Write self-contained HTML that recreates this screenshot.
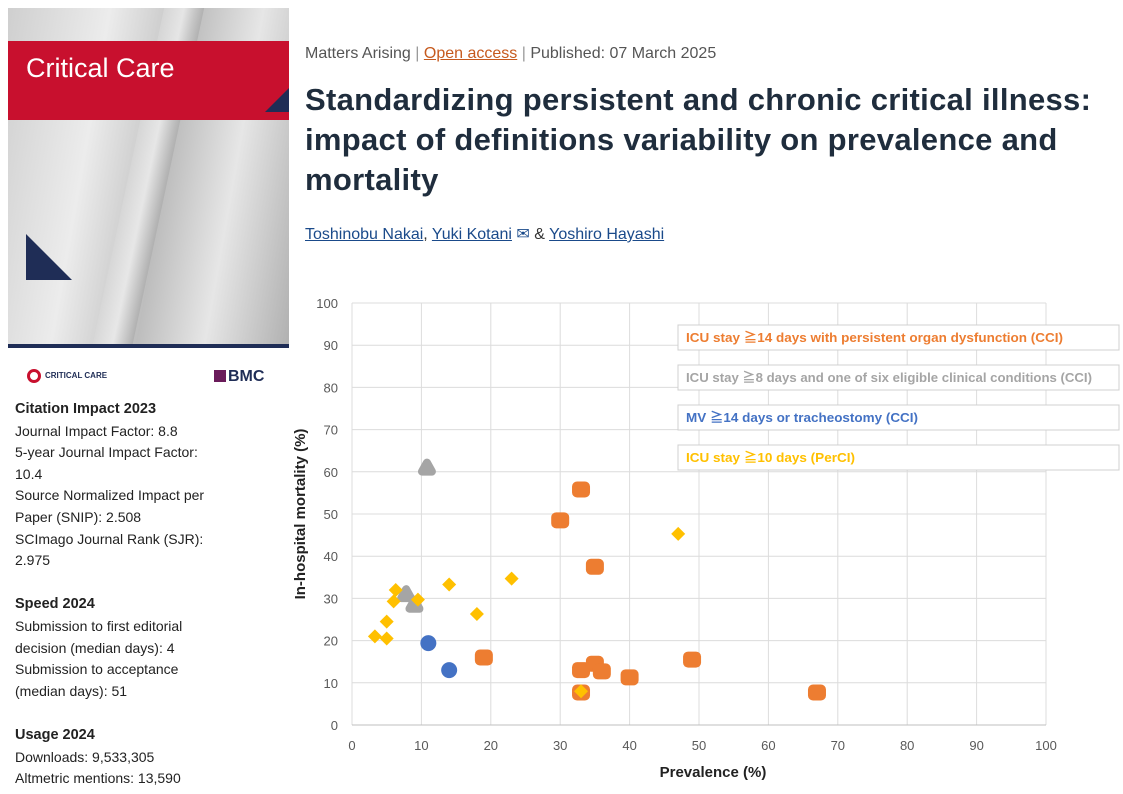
<!DOCTYPE html>
<html><head><meta charset="utf-8"><style>
body{margin:0;width:1123px;height:794px;background:#fff;position:relative;overflow:hidden;font-family:"Liberation Sans","Noto Sans CJK JP",sans-serif;}
.abs{position:absolute}
.side p{margin:0;font-size:14px;line-height:21.6px;color:#222}
.side b{font-size:14.5px;color:#222}
a{color:#1a4a8a}
</style></head><body>
<div class="abs" style="left:8px;top:8px;width:281px;height:340px;background:linear-gradient(100deg,#cfcfcf,#ececec 30%,#bdbdbd 55%,#e6e6e6 75%,#b0b0b0);">
 <div class="abs" style="left:120px;top:0;width:40px;height:340px;background:linear-gradient(90deg,#d8d8d8,#f4f4f4,#aaa);transform:skewX(-12deg);opacity:.7"></div>
 <div class="abs" style="left:0;top:33px;width:281px;height:79px;background:#c8102e;">
  <div class="abs" style="left:18px;top:12px;color:#fff;font-size:27px;">Critical Care</div>
  <div class="abs" style="right:0;bottom:8px;width:0;height:0;border-left:24px solid transparent;border-bottom:24px solid #1f2d56;"></div>
 </div>
 <div class="abs" style="left:18px;top:226px;width:0;height:0;border-top:46px solid transparent;border-left:46px solid #1f2d56;"></div>
 <div class="abs" style="left:0;bottom:0;width:281px;height:4px;background:#1f2d56"></div>
</div>
<div class="abs" style="left:27px;top:369px;font-size:8px;font-weight:bold;color:#1f2d56;"><span style="display:inline-block;width:14px;height:14px;border-radius:50%;border:3px solid #c8102e;box-sizing:border-box;vertical-align:middle;margin-right:4px"></span>CRITICAL CARE</div>
<div class="abs" style="left:214px;top:368px;font-size:16px;font-weight:bold;color:#1f2d56;"><span style="display:inline-block;width:12px;height:12px;background:#6a1b5a;vertical-align:-1px;margin-right:2px"></span>BMC</div>
<div class="abs side" style="left:15px;top:398px;width:270px;">
<p><b>Citation Impact 2023</b></p><p>Journal Impact Factor: 8.8</p><p>5-year Journal Impact Factor:</p><p>10.4</p><p>Source Normalized Impact per</p><p>Paper (SNIP): 2.508</p><p>SCImago Journal Rank (SJR):</p><p>2.975</p><p>&nbsp;</p>
<p><b>Speed 2024</b></p><p>Submission to first editorial</p><p>decision (median days): 4</p><p>Submission to acceptance</p><p>(median days): 51</p><p>&nbsp;</p>
<p><b>Usage 2024</b></p><p>Downloads: 9,533,305</p><p>Altmetric mentions: 13,590</p>
</div>
<div class="abs" style="left:305px;top:45px;font-size:16px;color:#555;">Matters Arising <span style="color:#999">|</span> <a style="color:#c65a1e;text-decoration:underline">Open access</a> <span style="color:#999">|</span> Published: 07 March 2025</div>
<div class="abs" style="left:305px;top:80px;width:810px;font-size:31px;line-height:40px;font-weight:bold;color:#1f2d3d;letter-spacing:0.3px">Standardizing persistent and chronic critical illness: impact of definitions variability on prevalence and mortality</div>
<div class="abs" style="left:305px;top:224px;font-size:16px;color:#333;"><a style="text-decoration:underline">Toshinobu Nakai</a>, <a style="text-decoration:underline">Yuki Kotani</a> <span style="color:#1a4a8a">✉</span> &amp; <a style="text-decoration:underline">Yoshiro Hayashi</a></div>
<svg class="abs" style="left:0;top:0" width="1123" height="794" id="chart"></svg>
<script>
const categories=["ICU stay ≧14 days with persistent organ dysfunction (CCI)","ICU stay ≧8 days and one of six eligible clinical conditions (CCI)","MV ≧14 days or tracheostomy (CCI)","ICU stay ≧10 days (PerCI)"];
const colors=["#ed7d31","#a5a5a5","#4472c4","#ffc000"];
const orangeX=[33,30,35,19,33,35,36,40,49,33,67];
const orangeY=[55.8,48.5,37.5,16,13,14.5,12.7,11.3,15.5,7.7,7.7];
const grayX=[10.8,7.8,9];
const grayY=[61,31,28.5];
const blueX=[11,14];
const blueY=[19.4,13];
const yellowX=[3.3,5,5,6,6.3,9.5,14,18,23,47,33];
const yellowY=[21,20.5,24.5,29.3,32,29.7,33.3,26.3,34.7,45.3,8];
const xTicks=[0,10,20,30,40,50,60,70,80,90,100];
const yTicks=[0,10,20,30,40,50,60,70,80,90,100];
const legendWidths=[377,406,232,169];
const svg=document.getElementById('chart');const NS='http://www.w3.org/2000/svg';
const X=v=>352+v*6.94, Y=v=>725-v*4.22;
function mk(t,a,p){const e=document.createElementNS(NS,t);for(const k in a)e.setAttribute(k,a[k]);(p||svg).appendChild(e);return e;}
xTicks.forEach(t=>{const l=mk('line',{x1:X(t),x2:X(t),y1:Y(0),y2:Y(100),stroke:'#dcdcdc'});


const tx=mk('text',{x:X(t),y:750,'text-anchor':'middle','font-size':13,fill:'#595959'});tx.textContent=t;

});
yTicks.forEach(t=>{const l=mk('line',{x1:X(0),x2:X(100),y1:Y(t),y2:Y(t),stroke:t===0?'#bfbfbf':'#dcdcdc'});


const tx=mk('text',{x:338,y:Y(t)+5,'text-anchor':'end','font-size':13,fill:'#595959'});tx.textContent=t;

});
let xt=mk('text',{x:713,y:777,'text-anchor':'middle','font-size':15,'font-weight':'bold',fill:'#222'});xt.textContent='Prevalence (%)';


let yt=mk('text',{x:0,y:0,transform:'translate(305,514) rotate(-90)','text-anchor':'middle','font-size':15,'font-weight':'bold',fill:'#222'});yt.textContent='In-hospital mortality (%)';


categories.forEach((c,i)=>{const y0=325+i*40;
const r=mk('rect',{x:678,y:y0,width:441,height:25,fill:'#fff',stroke:'#d0d0d0'});


const t=mk('text',{x:686,y:y0+17,'font-size':13,'font-weight':'bold',fill:colors[i],textLength:legendWidths[i],lengthAdjust:'spacingAndGlyphs'});t.textContent=c;

});
orangeX.forEach((x,i)=>{const e=mk('rect',{x:X(x)-9,y:Y(orangeY[i])-8,width:18,height:16,rx:5,fill:colors[0]});

});
grayX.forEach((x,i)=>{const cx=X(x),cy=Y(grayY[i]);const e=mk('path',{d:`M${cx} ${cy-5} L${cx+5} ${cy+4} L${cx-5} ${cy+4}Z`,fill:colors[1],stroke:colors[1],'stroke-width':8,'stroke-linejoin':'round'});

});
blueX.forEach((x,i)=>{const e=mk('circle',{cx:X(x),cy:Y(blueY[i]),r:8,fill:colors[2]});

});
yellowX.forEach((x,i)=>{const cx=X(x),cy=Y(yellowY[i]);const e=mk('path',{d:`M${cx} ${cy-7} L${cx+7} ${cy} L${cx} ${cy+7} L${cx-7} ${cy}Z`,fill:colors[3]});

});
</script>
</body></html>
